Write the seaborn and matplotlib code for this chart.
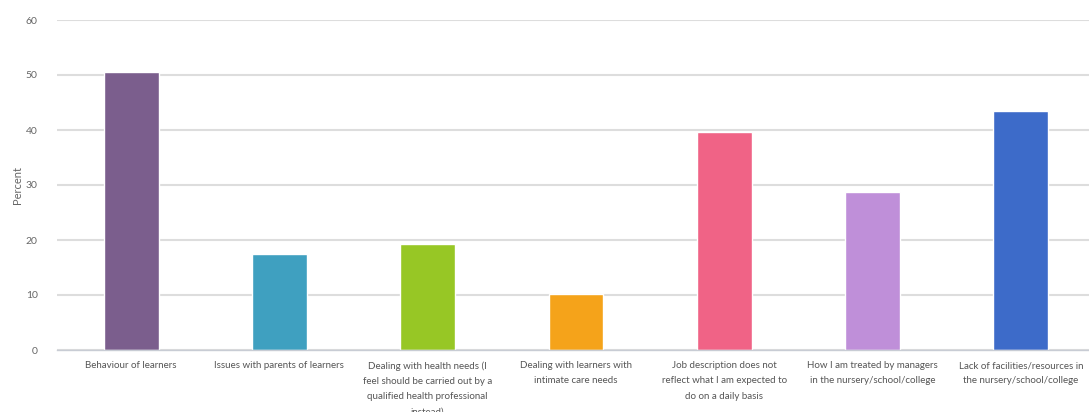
import matplotlib
matplotlib.use("Agg")
import matplotlib.pyplot as plt
import seaborn as sns
import pandas as pd
import numpy as np

categories = [
    "Behaviour of learners",
    "Issues with parents of learners",
    "Dealing with health needs (I\nfeel should be carried out by a\nqualified health professional\ninstead)",
    "Dealing with learners with\nintimate care needs",
    "Job description does not\nreflect what I am expected to\ndo on a daily basis",
    "How I am treated by managers\nin the nursery/school/college",
    "Lack of facilities/resources in\nthe nursery/school/college",
]
percent = [50.6, 17.5, 19.3, 10.1, 39.6, 28.8, 43.5]
colors = ["#7B5E8D", "#3FA0C0", "#97C725", "#F5A31A", "#F06386", "#BF8FD9", "#3D6BC9"]
yticks = [0, 10, 20, 30, 40, 50, 60]

sns.set_theme(style="white")
plt.rcParams["font.family"] = ["Lato", "DejaVu Sans"]

df = pd.DataFrame({"category": categories, "percent": percent})

fig = plt.figure(figsize=(10.89, 4.12), dpi=100)
ax = fig.add_axes([57 / 1089, 62 / 412, 1038 / 1089, 330 / 412])

sns.barplot(data=df, x="category", y="percent", hue="category",
            palette=colors, legend=False, width=0.37, saturation=1,
            ax=ax, zorder=3)

ax.set_ylim(0, 60)
ax.set_xlim(-0.5, len(categories) - 0.5)
ax.set_yticks(yticks)
ax.yaxis.grid(True, color="#dddddd", linewidth=1.5, zorder=0)
ax.xaxis.grid(False)
for s in ["top", "right", "left"]:
    ax.spines[s].set_visible(False)
ax.spines["bottom"].set_color("#c8ccd4")
ax.spines["bottom"].set_linewidth(1.0)
ax.spines["bottom"].set_zorder(4)

ax.tick_params(axis="y", length=0, pad=14, labelsize=7.5, labelcolor="#666666")
ax.tick_params(axis="x", which="major", length=0, pad=8, labelsize=7, labelcolor="#555555")
ax.set_xticks(np.arange(-0.5, len(categories), 1.0), minor=True)
ax.tick_params(axis="x", which="minor", length=9, width=1, color="#c8ccd4")
for lbl in ax.get_xticklabels():
    lbl.set_linespacing(1.9)
    lbl.set_va("top")

ax.set_xlabel("")
ax.set_ylabel("Percent", fontsize=8, color="#666666", labelpad=2)

fig.savefig("out.png", dpi=100)
